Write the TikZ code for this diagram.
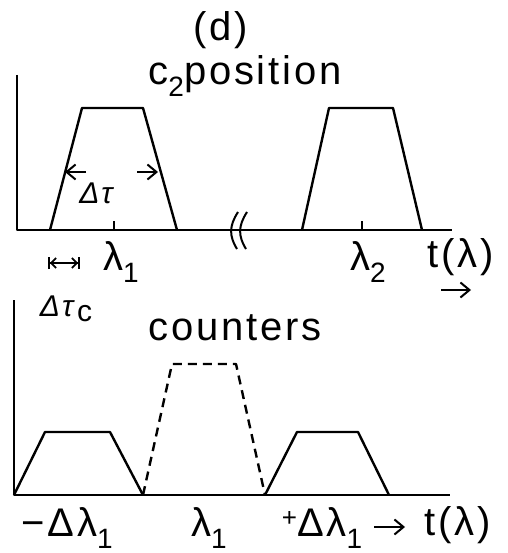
\documentclass[tikz,border=0pt]{standalone}
\usepackage{fontspec}
\setmainfont{Liberation Sans}[LetterSpace=7]
\usetikzlibrary{arrows.meta}
\newcommand\mysub[1]{\raisebox{-0.3em}{\fontsize{28}{30}\selectfont #1}}
\begin{document}
\begin{tikzpicture}[x=1pt,y=-1pt,line width=2.4pt,line join=round,
  lbl/.style={inner sep=0pt,font=\fontsize{40}{44}\selectfont},
  slbl/.style={inner sep=0pt,font=\fontsize{30}{34}\selectfont\itshape},
  axis/.style={line width=2.6pt},
  dimarrow/.style={line width=2pt,-{Straight Barb[length=9pt,width=15pt]}},
  pulse/.style={line width=2.4pt},
  dpulse/.style={line width=2.4pt,dash pattern=on 9pt off 6pt}]
\useasboundingbox (0,0) rectangle (507,553);
% ---- top panel
\node[lbl] (d) at (221,30) {(d)};
\node[lbl] (c2) at (245,76) {c\mysub{2}position};
\coordinate (o1) at (17,230);
\coordinate (yt1) at (17,75);
\coordinate (xe1) at (452,230);
\draw[axis] (yt1) -- (o1) -- (xe1);
\draw[pulse] (50,230) -- (82,108) -- (143,108) -- (177,230);
\draw[pulse] (302,230) -- (329,108) -- (393,108) -- (422,230);
\draw[line width=1.6pt] (114,221) -- (114,230);
\draw[line width=1.6pt] (362,221) -- (362,230);
\draw[line width=2pt] (238,212) .. controls (229,226) and (229,236) .. (237,249);
\draw[line width=2pt] (247,212) .. controls (238,226) and (238,236) .. (246,249);
\coordinate (ta) at (86,172); \coordinate (tb) at (65,172);
\coordinate (tc) at (137,172); \coordinate (td) at (158,172);
\draw[dimarrow] (ta) -- (tb);
\draw[dimarrow] (tc) -- (td);
\node[slbl] (dt) at (96,193) {Δτ};
\node[lbl] (l1) at (121,262) {λ\mysub{1}};
\node[lbl] (l2) at (368,262) {λ\mysub{2}};
\node[lbl] (t1) at (461,257) {t(λ)};
\coordinate (ra) at (441,290); \coordinate (rb) at (471,290);
\draw[dimarrow] (ra) -- (rb);
\coordinate (ca) at (48,263); \coordinate (cb) at (80,263);
\draw[line width=1.8pt,{Bar[width=12pt]Straight Barb[length=5pt,width=10pt]}-{Straight Barb[length=5pt,width=10pt]Bar[width=12pt]}] (ca) -- (cb);
\node[slbl] (dtc) at (66,309) {Δτ\textup{\raisebox{-0.15em}{c}}};
% ---- bottom panel
\node[lbl] (cnt) at (235,328) {counters};
\coordinate (o2) at (14,495);
\coordinate (yt2) at (14,300);
\coordinate (xe2) at (450,495);
\draw[axis] (yt2) -- (o2) -- (xe2);
\draw[pulse] (14,495) -- (45,432) -- (110,432) -- (143,495);
\draw[dpulse] (143,495) -- (172,364) -- (236,364) -- (265,495);
\draw[pulse] (265,495) -- (297,432) -- (358,432) -- (389,495);
\node[lbl] (mdl) at (67,528) {−Δλ\mysub{1}};
\node[lbl] (lb1) at (209,528) {λ\mysub{1}};
\node[lbl] (pdl) at (322,528) {\raisebox{0.25em}{\fontsize{26}{28}\selectfont +}Δλ\mysub{1}};
\node[lbl] (t2) at (458,525) {t(λ)};
\coordinate (pa) at (374,527); \coordinate (pb) at (405,527);
\draw[dimarrow] (pa) -- (pb);
\end{tikzpicture}
\end{document}
